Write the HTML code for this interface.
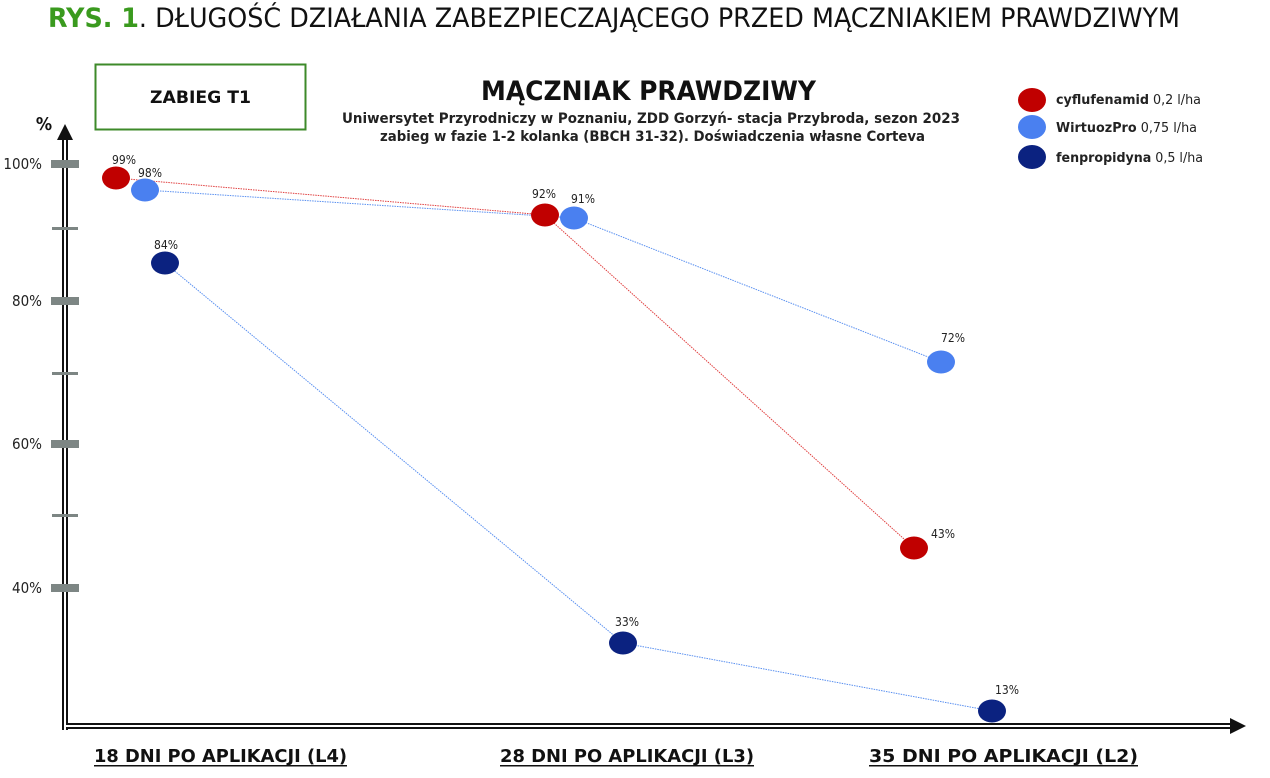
<!DOCTYPE html>
<html><head><meta charset="utf-8"><style>
html,body{margin:0;padding:0;background:#fff;width:1270px;height:778px;overflow:hidden}
svg{display:block}
text{font-family:"DejaVu Sans Condensed","DejaVu Sans","Liberation Sans",sans-serif}
</style></head><body>
<svg width="1270" height="778" viewBox="0 0 1270 778">
<text x="48" y="27" font-size="27" fill="#111" textLength="1132" lengthAdjust="spacingAndGlyphs"><tspan fill="#3a9a1e" font-weight="bold">RYS. 1</tspan>. DŁUGOŚĆ DZIAŁANIA ZABEZPIECZAJĄCEGO PRZED MĄCZNIAKIEM PRAWDZIWYM</text>
<rect x="95.5" y="64.5" width="210" height="65" fill="none" stroke="#3d8a2a" stroke-width="2"/>
<text x="150" y="103" font-size="17" font-weight="bold" fill="#111" textLength="101" lengthAdjust="spacingAndGlyphs">ZABIEG T1</text>
<text x="481" y="100" font-size="27" font-weight="bold" fill="#111" textLength="335" lengthAdjust="spacingAndGlyphs">MĄCZNIAK PRAWDZIWY</text>
<text x="342" y="123" font-size="14" font-weight="bold" fill="#222" textLength="618" lengthAdjust="spacingAndGlyphs">Uniwersytet Przyrodniczy w Poznaniu, ZDD Gorzyń- stacja Przybroda, sezon 2023</text>
<text x="380" y="141" font-size="14" font-weight="bold" fill="#222" textLength="545" lengthAdjust="spacingAndGlyphs">zabieg w fazie 1-2 kolanka (BBCH 31-32). Doświadczenia własne Corteva</text>
<ellipse cx="1032" cy="100" rx="14" ry="12" fill="#c00000"/>
<ellipse cx="1032" cy="127" rx="14" ry="12" fill="#4a80f0"/>
<ellipse cx="1032" cy="157" rx="14" ry="12" fill="#0b2280"/>
<text x="1056" y="104" font-size="13" fill="#222" textLength="145" lengthAdjust="spacingAndGlyphs"><tspan font-weight="bold">cyflufenamid</tspan> 0,2 l/ha</text>
<text x="1056" y="132" font-size="13" fill="#222" textLength="141" lengthAdjust="spacingAndGlyphs"><tspan font-weight="bold">WirtuozPro</tspan> 0,75 l/ha</text>
<text x="1056" y="162" font-size="13" fill="#222" textLength="147" lengthAdjust="spacingAndGlyphs"><tspan font-weight="bold">fenpropidyna</tspan> 0,5 l/ha</text>
<text x="44" y="130" font-size="18" font-weight="bold" fill="#111" text-anchor="middle">%</text>
<rect x="62" y="140" width="6" height="590" fill="#111"/><rect x="64" y="140" width="2" height="590" fill="#fff"/>
<polygon points="57,140 65,124 73,140" fill="#111"/>
<rect x="66" y="723" width="1168" height="6" fill="#111"/><rect x="66" y="725" width="1168" height="2" fill="#fff"/>
<polygon points="1230,718 1246,726 1230,734" fill="#111"/>
<g fill="#7d8684">
<rect x="51" y="160" width="28" height="8"/><rect x="51" y="297" width="28" height="8"/><rect x="51" y="440" width="28" height="8"/><rect x="51" y="584" width="28" height="8"/>
<rect x="52" y="227" width="26" height="3"/><rect x="52" y="372" width="26" height="3"/><rect x="52" y="514" width="26" height="3"/>
</g>
<g font-size="15" fill="#222" text-anchor="end"><text x="42" y="169">100%</text><text x="42" y="306">80%</text><text x="42" y="449">60%</text><text x="42" y="593">40%</text></g>
<g fill="none" stroke-width="1" stroke-dasharray="1.5 1">
<polyline points="116,178 545,215 914,548" stroke="#e04040"/>
<polyline points="145,190 574,218 941,362" stroke="#5a90f0"/>
<polyline points="165,263 623,643 992,711" stroke="#5a90f0"/>
</g>
<ellipse cx="116" cy="178" rx="14" ry="11.5" fill="#c00000"/>
<ellipse cx="145" cy="190" rx="14" ry="11.5" fill="#4a80f0"/>
<ellipse cx="165" cy="263" rx="14" ry="11.5" fill="#0b2280"/>
<ellipse cx="545" cy="215" rx="14" ry="11.5" fill="#c00000"/>
<ellipse cx="574" cy="218" rx="14" ry="11.5" fill="#4a80f0"/>
<ellipse cx="914" cy="548" rx="14" ry="11.5" fill="#c00000"/>
<ellipse cx="941" cy="362" rx="14" ry="11.5" fill="#4a80f0"/>
<ellipse cx="623" cy="643" rx="14" ry="11.5" fill="#0b2280"/>
<ellipse cx="992" cy="711" rx="14" ry="11.5" fill="#0b2280"/>
<g font-size="12" fill="#222">
<text x="112" y="164">99%</text><text x="138" y="177">98%</text><text x="154" y="249">84%</text>
<text x="532" y="198">92%</text><text x="571" y="203">91%</text><text x="941" y="342">72%</text>
<text x="931" y="538">43%</text><text x="615" y="626">33%</text><text x="995" y="694">13%</text>
</g>
<g font-size="18" font-weight="bold" fill="#111">
<text x="94" y="762" textLength="253" lengthAdjust="spacingAndGlyphs">18 DNI PO APLIKACJI (L4)</text>
<text x="500" y="762" textLength="254" lengthAdjust="spacingAndGlyphs">28 DNI PO APLIKACJI (L3)</text>
<text x="869" y="762" textLength="269" lengthAdjust="spacingAndGlyphs">35 DNI PO APLIKACJI (L2)</text>
</g>
<g fill="#111"><rect x="94" y="765" width="253" height="1.5"/><rect x="500" y="765" width="254" height="1.5"/><rect x="869" y="765" width="269" height="1.5"/></g>
</svg>
</body></html>
